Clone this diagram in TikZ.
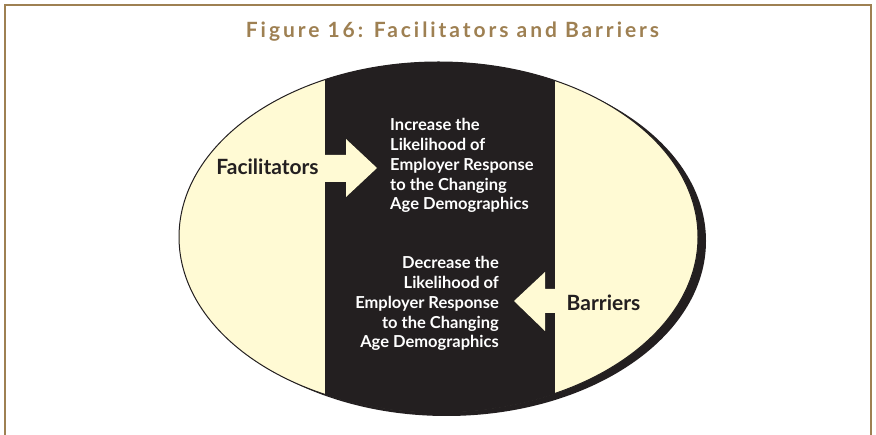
\documentclass[tikz,border=0pt]{standalone}
\usepackage{fontspec}
\setmainfont{Lato}
\newfontfamily\titlefont[LetterSpace=14]{Lato}
\definecolor{framebrown}{RGB}{158,128,82}
\definecolor{cream}{RGB}{255,250,212}
\definecolor{inkdark}{RGB}{35,31,32}
\tikzset{
  sidelabel/.style={font=\fontsize{21}{24}\selectfont\bfseries, text=inkdark, inner sep=0pt},
  bandtext/.style={font=\fontsize{16.5}{19.8}\selectfont\bfseries, text=white, inner sep=0pt},
  creamarrow/.style={fill=cream},
}
\begin{document}
\begin{tikzpicture}[x=1pt,y=-1pt]
  \useasboundingbox (0,0) rectangle (876,435);

  % Drawing the frame
  \draw [framebrown, line width=2.5pt] (5,435) -- (5,5) -- (871,5) -- (871,435);%

  % Marking the title
  \node (title) at (452.5,37.5) [anchor=base, inner sep=0pt, text=framebrown, font=\titlefont\fontsize{21}{24}\selectfont\bfseries] {Figure 16: Facilitators and Barriers};%

  % Drawing the shadow
  \fill [inkdark] (446.5,241) ellipse [x radius=259.5pt, y radius=175pt];%

  % Drawing the ellipse
  \filldraw [fill=cream, draw=inkdark, line width=1pt] (438.5,237) ellipse [x radius=259.5pt, y radius=175pt];%

  % Drawing the band
  \begin{scope}
    \clip (438.5,237) ellipse [x radius=259.5pt, y radius=175pt];
    \fill [inkdark] (325,50) rectangle (555,420);%
  \end{scope}

  % Drawing arrow to the right
  \fill [creamarrow] (320,155) -- (346,155) -- (346,139) -- (377,168) -- (346,197) -- (346,182) -- (320,182) -- cycle;%

  % Drawing arrow to the left
  \fill [creamarrow] (560,289) -- (545,289) -- (545,272) -- (514,301) -- (545,331) -- (545,313) -- (560,313) -- cycle;%

  % Marking Facilitators
  \node (facil) at (267.5,175) [sidelabel, anchor=base] {Facilitators};%

  % Marking Barriers
  \node (barr) at (603.5,311) [sidelabel, anchor=base] {Barriers};%

  % Marking the increase text
  \node (incr) at (390,210) [bandtext, align=left, anchor=base west] {Increase the\\Likelihood of\\Employer Response\\to the Changing\\Age Demographics};%

  % Marking the decrease text
  \node (decr) at (499,348) [bandtext, align=right, anchor=base east] {Decrease the\\Likelihood of\\Employer Response\\to the Changing\\Age Demographics};%
\end{tikzpicture}
\end{document}
